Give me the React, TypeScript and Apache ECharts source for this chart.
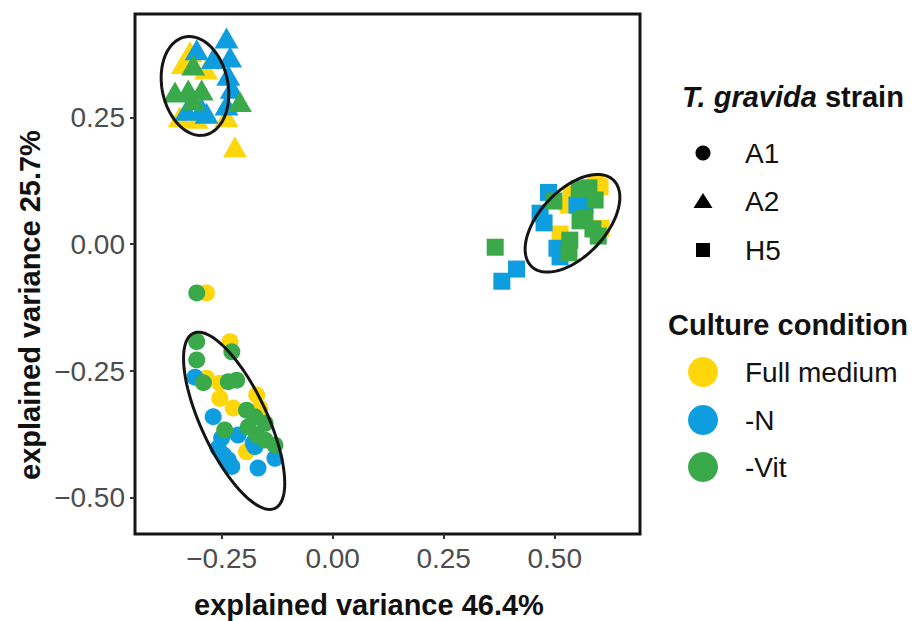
import React, { useEffect, useRef } from "react";
import * as echarts from "echarts";

const conditions = ["Full medium", "-N", "-Vit"];
const conditionColors = ["#FFD60A", "#0E9DDF", "#3AA94A"];
const strains = ["A1", "A2", "H5"];
const strainSymbols = ["circle", "triangle", "rect"];

const xTicks = [-0.25, 0, 0.25, 0.5];
const yTicks = [-0.5, -0.25, 0, 0.25];

// A1 (circles)
const a1Full = [[-0.284, -0.096], [-0.231, -0.192], [-0.284, -0.264], [-0.254, -0.274], [-0.254, -0.304], [-0.171, -0.297], [-0.224, -0.323], [-0.164, -0.323], [-0.194, -0.409]];
const a1N = [[-0.31, -0.262], [-0.269, -0.34], [-0.213, -0.376], [-0.25, -0.382], [-0.258, -0.402], [-0.175, -0.399], [-0.13, -0.422], [-0.235, -0.425], [-0.246, -0.415], [-0.168, -0.441], [-0.179, -0.392], [-0.227, -0.438]];
const a1Vit = [[-0.306, -0.096], [-0.306, -0.192], [-0.227, -0.212], [-0.306, -0.228], [-0.291, -0.273], [-0.235, -0.271], [-0.216, -0.268], [-0.194, -0.327], [-0.175, -0.34], [-0.19, -0.36], [-0.152, -0.353], [-0.243, -0.366], [-0.152, -0.386], [-0.13, -0.396], [-0.171, -0.376]];

// A2 (triangles)
const a2Full = [[-0.321, 0.379], [-0.337, 0.356], [-0.285, 0.345], [-0.344, 0.251], [-0.306, 0.248], [-0.239, 0.251], [-0.22, 0.192]];
const a2N = [[-0.239, 0.406], [-0.306, 0.383], [-0.269, 0.366], [-0.231, 0.369], [-0.235, 0.333], [-0.227, 0.307], [-0.239, 0.274], [-0.329, 0.264], [-0.295, 0.268], [-0.284, 0.258]];
const a2Vit = [[-0.314, 0.353], [-0.325, 0.304], [-0.295, 0.304], [-0.355, 0.3], [-0.209, 0.281], [-0.314, 0.284]];

// H5 (squares)
const h5Full = [[0.537, 0.099], [0.602, 0.113], [0.604, 0.031], [0.512, 0.02], [0.516, -0.004], [0.53, 0.077], [0.593, 0.119]];
const h5N = [[0.414, -0.049], [0.381, -0.073], [0.486, 0.102], [0.467, 0.061], [0.476, 0.042], [0.55, 0.077], [0.512, -0.025], [0.568, 0.077], [0.505, -0.008]];
const h5Vit = [[0.366, -0.006], [0.498, 0.085], [0.555, 0.109], [0.577, 0.111], [0.591, 0.087], [0.557, 0.046], [0.586, 0.03], [0.598, 0.016], [0.534, 0.008], [0.532, -0.017], [0.568, 0.052]];

const groups = [
  [a1Full, a1N, a1Vit],
  [a2Full, a2N, a2Vit],
  [h5Full, h5N, h5Vit],
];

// ellipses: [cx, cy, ux, uy, vx, vy] (center and two half-axis vectors, data units)
const ellipseA1 = [-0.2218, -0.348, 0.0919, -0.1724, 0.0673, 0.0274];
const ellipseA2 = [-0.31, 0.3117, 0.0225, -0.0965, 0.0727, 0.013];
const ellipseH5 = [0.54, 0.0412, 0.0919, 0.0853, 0.0541, -0.0445];

const FONT = "'Liberation Sans', Arial, Helvetica, sans-serif";
const fmt = (v: number) => v.toFixed(2).replace("-", "\u2212");

export default function App() {
  const ref = useRef<HTMLDivElement>(null);
  useEffect(() => {
    document.body.style.margin = "0";
    const chart = echarts.init(ref.current!, null, { renderer: "svg" });

    const sizes: any[] = [17, [24, 21], 17];
    const series: any[] = [];
    strains.forEach((s, si) => {
      conditions.forEach((c, ci) => {
        series.push({
          type: "scatter",
          name: s + " " + c,
          data: groups[si][ci],
          symbol: strainSymbols[si],
          symbolSize: sizes[si],
          itemStyle: { color: conditionColors[ci], opacity: 1 },
          z: 2,
        });
      });
    });
    series.push({
      type: "custom",
      data: [ellipseA1, ellipseA2, ellipseH5],
      encode: { x: 0, y: 1 },
      z: 5,
      silent: true,
      clip: false,
      renderItem: (params: any, api: any) => {
        const cx = api.value(0), cy = api.value(1);
        const ux = api.value(2), uy = api.value(3);
        const vx = api.value(4), vy = api.value(5);
        const pts: number[][] = [];
        const n = 120;
        for (let k = 0; k < n; k++) {
          const t = (k / n) * Math.PI * 2;
          pts.push(api.coord([cx + ux * Math.cos(t) + vx * Math.sin(t), cy + uy * Math.cos(t) + vy * Math.sin(t)]));
        }
        return {
          type: "polygon",
          shape: { points: pts },
          style: { fill: "none", stroke: "#151515", lineWidth: 3 },
        };
      },
    });

    const legendX = 703;
    const labelX = 745;
    const graphic: any[] = [
      {
        type: "text",
        x: 369,
        y: 605,
        style: { text: "explained variance 46.4%", font: `bold 29px ${FONT}`, fill: "#111", align: "center", verticalAlign: "middle" },
      },
      {
        type: "text",
        x: 30,
        y: 305,
        rotation: Math.PI / 2,
        style: { text: "explained variance 25.7%", font: `bold 29px ${FONT}`, fill: "#111", align: "center", verticalAlign: "middle" },
      },
      {
        type: "text",
        x: 682,
        y: 97,
        style: {
          text: "{i|T. gravida} {b|strain}",
          font: `bold 29px ${FONT}`,
          fill: "#111",
          verticalAlign: "middle",
          rich: {
            i: { fontStyle: "italic", fontWeight: "bold", fontSize: 29, fontFamily: FONT, fill: "#111" },
            b: { fontWeight: "bold", fontSize: 29, fontFamily: FONT, fill: "#111" },
          },
        },
      },
      {
        type: "text",
        x: 668,
        y: 325,
        style: { text: "Culture condition", font: `bold 29px ${FONT}`, fill: "#111", verticalAlign: "middle" },
      },
      { type: "circle", shape: { cx: legendX, cy: 153, r: 7.5 }, style: { fill: "#000" } },
      { type: "polygon", shape: { points: [[legendX, 193], [legendX + 9.5, 208], [legendX - 9.5, 208]] }, style: { fill: "#000" } },
      { type: "rect", shape: { x: legendX - 7, y: 243, width: 14, height: 14 }, style: { fill: "#000" } },
    ];
    const strainY = [153, 201, 250];
    strains.forEach((s, i) => {
      graphic.push({ type: "text", x: labelX, y: strainY[i], style: { text: s, font: `28px ${FONT}`, fill: "#111", verticalAlign: "middle" } });
    });
    const condY = [372, 420, 467];
    conditions.forEach((c, i) => {
      graphic.push({ type: "circle", shape: { cx: legendX, cy: condY[i], r: 15 }, style: { fill: conditionColors[i] } });
      graphic.push({ type: "text", x: labelX, y: condY[i], style: { text: c, font: `28px ${FONT}`, fill: "#111", verticalAlign: "middle" } });
    });

    chart.setOption({
      animation: false,
      backgroundColor: "#fff",
      grid: { left: 135, right: 272, top: 14, bottom: 87, show: true, borderColor: "#151515", borderWidth: 3, backgroundColor: "transparent" },
      xAxis: {
        type: "value",
        min: -0.445,
        max: 0.692,
        splitLine: { show: false },
        axisLine: { show: false, onZero: false },
        axisTick: { show: true, length: 5, lineStyle: { color: "#333", width: 2 }, customValues: xTicks },
        axisLabel: { customValues: xTicks, formatter: fmt, color: "#4d4d4d", fontSize: 28, fontFamily: FONT, margin: 10 },
      },
      yAxis: {
        type: "value",
        min: -0.571,
        max: 0.4535,
        splitLine: { show: false },
        axisLine: { show: false, onZero: false },
        axisTick: { show: true, length: 5, lineStyle: { color: "#333", width: 2 }, customValues: yTicks },
        axisLabel: { customValues: yTicks, formatter: fmt, color: "#4d4d4d", fontSize: 28, fontFamily: FONT, margin: 10 },
      },
      series,
      graphic,
    });
    return () => chart.dispose();
  }, []);
  return <div ref={ref} style={{ width: 912, height: 621 }} />;
}
